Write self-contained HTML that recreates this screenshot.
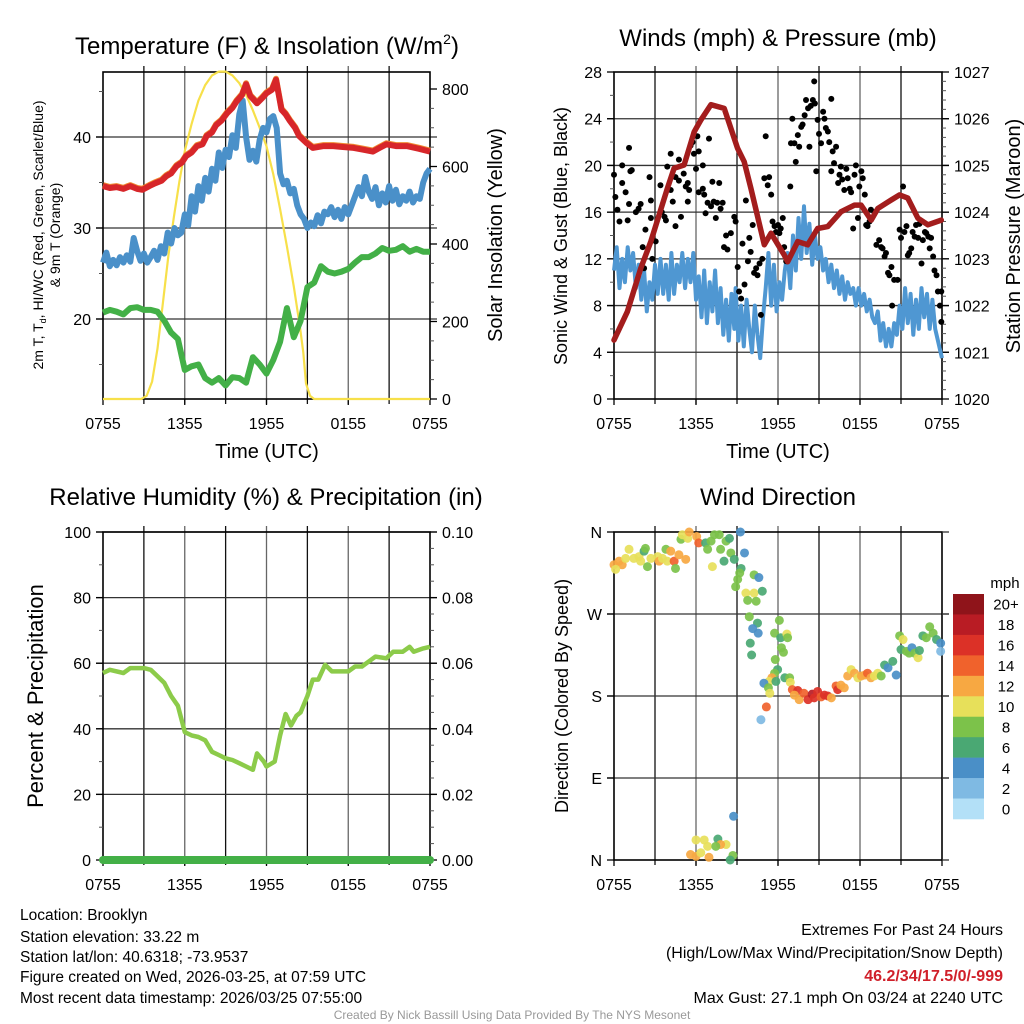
<!DOCTYPE html>
<html><head><meta charset="utf-8"><style>
html,body{margin:0;padding:0;background:#fff;}
svg{display:block;font-family:"Liberation Sans",Arial,sans-serif;}
</style></head><body>
<svg id="chart" width="1024" height="1024" viewBox="0 0 1024 1024" xmlns="http://www.w3.org/2000/svg">
<rect width="1024" height="1024" fill="#fff"/>
<g id="p1"></g>
<g id="p2"></g>
<g id="p3"></g>
<g id="p4"></g>

<text x="267" y="54" font-size="24" text-anchor="middle">Temperature (F) &amp; Insolation (W/m<tspan font-size="14" dy="-10">2</tspan><tspan dy="10">)</tspan></text>
<text x="778" y="46" font-size="24" text-anchor="middle">Winds (mph) &amp; Pressure (mb)</text>
<text x="266" y="505" font-size="24" text-anchor="middle">Relative Humidity (%) &amp; Precipitation (in)</text>
<text x="778" y="505" font-size="24" text-anchor="middle">Wind Direction</text>

<text x="267" y="458" font-size="20" text-anchor="middle">Time (UTC)</text>
<text x="778" y="458" font-size="20" text-anchor="middle">Time (UTC)</text>

<text transform="translate(43,235) rotate(-90)" font-size="14" text-anchor="middle">2m T, T<tspan font-size="9" dy="3">d</tspan><tspan dy="-3">, HI/WC (Red, Green, Scarlet/Blue)</tspan></text>
<text transform="translate(60,235) rotate(-90)" font-size="14" text-anchor="middle">&amp; 9m T (Orange)</text>
<text transform="translate(502,235) rotate(-90)" font-size="20" text-anchor="middle">Solar Insolation (Yellow)</text>
<text transform="translate(567,236) rotate(-90)" font-size="18" text-anchor="middle">Sonic Wind &amp; Gust (Blue, Black)</text>
<text transform="translate(1020,236) rotate(-90)" font-size="20" text-anchor="middle">Station Pressure (Maroon)</text>
<text transform="translate(43,696) rotate(-90)" font-size="22" text-anchor="middle">Percent &amp; Precipitation</text>
<text transform="translate(568,696) rotate(-90)" font-size="18" text-anchor="middle">Direction (Colored By Speed)</text>

<g font-size="15.5">
<text x="20" y="920">Location: Brooklyn</text>
<text x="20" y="942">Station elevation: 33.22 m</text>
<text x="20" y="962">Station lat/lon: 40.6318; -73.9537</text>
<text x="20" y="982">Figure created on Wed, 2026-03-25, at 07:59 UTC</text>
<text x="20" y="1003">Most recent data timestamp: 2026/03/25 07:55:00</text>
</g>
<g font-size="16" text-anchor="end">
<text x="1003" y="935">Extremes For Past 24 Hours</text>
<text x="1003" y="958">(High/Low/Max Wind/Precipitation/Snow Depth)</text>
<text x="1003" y="981" fill="#d0202a" font-weight="bold">46.2/34/17.5/0/-999</text>
<text x="1003" y="1003">Max Gust: 27.1 mph On 03/24 at 2240 UTC</text>
</g>
<text x="512" y="1019" font-size="12" fill="#999" text-anchor="middle">Created By Nick Bassill Using Data Provided By The NYS Mesonet</text>
</svg>
<script>
// ---------- DATA ----------
const timeTickHours = [0,6,12,18,24];
const timeTickLabels = ["0755","1355","1955","0155","0755"];

const tempHours = [0,0.5,1,1.5,2,2.5,2.9,3.4,3.8,4.3,4.65,5.0,5.4,5.8,6.1,6.5,6.9,7.3,7.6,8.0,8.3,8.7,9.1,9.5,9.8,10.2,10.5,10.8,11.3,11.7,12.0,12.4,12.7,13.1,13.4,13.7,14.1,14.4,14.9,15.4,16.2,16.9,17.6,18.4,19.1,19.8,20.3,20.8,21.5,22.3,23.2,24];
const tempValues = [34.6,34.4,34.5,34.3,34.6,34.3,34.2,34.6,34.9,35.2,35.7,36.0,36.8,37.2,37.9,38.3,39.0,39.2,40.1,40.5,41.3,41.8,42.6,43.2,43.9,44.6,45.8,44.5,43.7,44.3,44.8,45.2,46.3,43.0,42.5,41.8,41.0,40.1,39.4,38.8,39.0,39.0,38.9,38.8,38.6,38.4,38.8,39.2,39.0,39.0,38.7,38.4];

const hiwcHours = [0,0.25,0.5,0.75,1,1.25,1.5,1.75,2,2.25,2.5,2.75,3,3.25,3.5,3.75,4,4.25,4.5,4.75,5,5.25,5.5,5.75,6,6.25,6.5,6.75,7,7.25,7.5,7.75,8,8.25,8.5,8.75,9,9.25,9.5,9.75,10,10.25,10.5,10.75,11,11.25,11.5,11.75,12,12.25,12.5,12.75,13,13.25,13.5,13.75,14,14.25,14.5,14.75,15,15.25,15.5,15.75,16,16.25,16.5,16.75,17,17.25,17.5,17.75,18,18.25,18.5,18.75,19,19.25,19.5,19.75,20,20.25,20.5,20.75,21,21.25,21.5,21.75,22,22.25,22.5,22.75,23,23.25,23.5,23.75,24];
const hiwcValues = [26.2,27.3,25.8,26.5,25.9,26.8,26.2,27.0,26.3,28.9,27.5,26.4,27.2,26.2,26.8,27.5,26.5,28.0,27.2,29.5,28.3,30.0,29.2,29.5,31.5,30.3,33.5,31.8,34.6,33.0,35.5,34.0,36.5,35.2,38.3,36.6,38.6,37.8,40.2,38.8,42.5,44.0,40.0,37.5,38.5,37.3,39.7,41.0,40.5,42.0,42.3,41.0,36.0,34.8,35.2,33.8,34.3,32.5,31.5,31.0,30.0,30.6,30.2,31.4,30.5,31.8,31.5,32.3,31.2,32.0,31.0,32.3,31.5,32.5,33.5,34.5,33.5,35.6,34.0,33.2,34.5,32.5,33.8,32.8,34.6,33.0,34.2,32.6,33.5,33.0,34.0,32.8,33.5,33.2,35.0,36.0,36.5];

const dewHours = [0,0.5,1,1.5,2,2.5,3,3.5,4,4.5,5,5.5,6,6.5,7,7.5,8,8.5,9,9.5,10,10.5,11,11.5,12,12.5,13,13.5,14,14.5,15,15.5,16,16.5,17,17.5,18,18.5,19,19.5,20,20.5,21,21.5,22,22.5,23,23.5,24];
const dewValues = [20.7,21.0,20.8,20.5,21.2,21.3,21.0,21.0,20.8,19.8,18.5,17.8,14.4,14.8,15.0,13.5,13.0,13.5,12.7,13.6,13.5,13.0,15.8,15.0,14.0,15.5,17.5,21.2,18.0,19.8,23.5,24.0,25.8,25.2,25.0,25.2,25.5,26.2,26.8,26.8,27.2,27.8,27.5,27.6,28.0,27.4,27.7,27.4,27.4];

const solarHours = [0,2.8,3.2,3.6,4.0,4.4,4.8,5.2,5.6,6.0,6.5,7.0,7.5,8.0,8.5,9.0,9.5,10.0,10.5,11.0,11.5,12.0,12.5,13.0,13.5,14.0,14.45,14.7,14.9,15.2,15.5,24];
const solarValues = [0,0,8,45,130,250,370,470,560,640,710,770,810,835,845,845,835,815,785,745,700,652,580,490,394,290,187,120,40,8,0,0];

const pressHours = [0,0.98,1.96,2.69,3.91,4.4,5.13,5.87,6.35,7.09,8.06,9.04,9.53,10.02,11.0,11.49,12.46,12.71,13.44,14.17,14.9,15.64,16.62,17.6,18.08,18.82,19.31,20.28,20.9,21.5,22.24,22.97,23.95];
const pressValues = [1021.26,1021.87,1022.8,1023.37,1024.51,1024.94,1025.01,1025.72,1025.97,1026.3,1026.22,1025.37,1025.08,1024.51,1023.3,1023.55,1023.08,1022.94,1023.37,1023.3,1023.65,1023.69,1024.01,1024.15,1024.15,1023.83,1024.08,1024.26,1024.37,1024.3,1023.87,1023.73,1023.83];

const windHours = [0,0.2,0.4,0.6,0.8,1.0,1.2,1.4,1.6,1.8,2.0,2.2,2.4,2.6,2.8,3.0,3.2,3.4,3.6,3.8,4.0,4.2,4.4,4.6,4.8,5.0,5.2,5.4,5.6,5.8,6.0,6.2,6.4,6.6,6.8,7.0,7.2,7.4,7.6,7.8,8.0,8.2,8.4,8.6,8.8,8.9,9.1,9.3,9.5,9.7,9.9,10.1,10.3,10.5,10.7,10.9,11.1,11.3,11.5,11.7,11.9,12.1,12.3,12.5,12.7,12.9,13.1,13.3,13.5,13.7,13.9,14.1,14.3,14.5,14.7,14.9,15.1,15.3,15.5,15.7,15.9,16.1,16.3,16.5,16.7,16.9,17.1,17.3,17.5,17.7,17.9,18.1,18.3,18.5,18.7,18.9,19.1,19.3,19.5,19.7,19.9,20.1,20.3,20.5,20.7,20.9,21.1,21.3,21.5,21.7,21.9,22.1,22.3,22.5,22.7,22.9,23.1,23.3,23.5,23.7,23.9,24];
const windValues = [11,13,9.5,12,10,13,11,12.5,9.5,11.5,8.5,11,7.5,10,8.5,11.5,9,12,9,11.5,8.5,12.5,9,11.5,10,12.5,9.5,12,10,12.5,8.5,10.5,7,11,6.5,10,7.5,11,6.5,9.5,5.5,8.5,5,9,6,9.5,5,8,4.5,8.5,6,4,8,5.5,3.5,7,9.5,12.5,8,11.5,7.5,10,8.5,11,12.5,9.5,14,11,15.5,12,16.5,12.5,15,11.5,14,12,13,11,12,10,11.5,9.5,11,9,10.5,8.5,10,9,9.5,8,9.5,8,9,7.5,8.5,7,6.5,7.5,5,6.5,4.5,6,4.5,6.5,5.5,8,6,9.5,6.5,9,5.5,8.5,6,9.5,7,9,6,8.5,6,5,4,3.5];

const gustHours = [0,0.1,0.25,0.4,0.6,0.6,0.85,1.1,1.1,1.2,1.3,1.0,1.6,1.8,1.95,2.1,2.3,2.2,2.6,2.7,2.7,2.8,3.05,3.4,3.5,3.7,3.8,3.9,4.15,4.15,4.3,4.5,4.5,4.75,4.75,4.9,5.1,5.25,5.4,5.4,5.5,5.6,5.75,5.85,6.1,6.0,6.2,6.2,6.5,6.5,6.6,6.7,6.85,6.95,7.1,7.2,7.3,7.45,7.55,7.7,7.8,7.95,8.05,8.2,8.3,8.55,8.8,8.9,9.05,9.15,9.3,9.4,9.55,9.65,9.8,9.9,10.0,10.15,10.25,10.4,10.5,10.65,10.75,10.85,11.0,11.1,11.25,11.35,11.5,11.6,11.75,11.85,12.0,12.1,12.2,12.35,12.45,12.6,12.9,12.95,13.05,13.2,13.3,13.45,13.55,13.7,13.8,13.95,14.05,14.2,14.3,14.4,14.55,14.65,14.7,14.8,14.9,15.0,15.15,15.3,15.4,15.5,15.65,15.75,15.9,15.9,16.0,16.1,16.25,16.4,16.5,16.6,16.7,16.85,17.0,17.1,17.25,17.35,17.5,17.6,17.7,17.85,17.95,18.1,18.2,18.35,18.45,18.55,18.7,18.8,19.05,19.2,19.4,19.55,19.65,19.8,19.9,20.05,20.15,20.3,20.35,20.5,20.75,20.9,21.0,21.15,21.25,21.4,21.5,21.6,21.75,21.85,22.0,22.1,22.25,22.35,22.5,22.6,22.75,22.85,23.0,23.1,23.2,23.35,23.45,23.6,23.7,23.85,23.95,23.95];
const gustValues = [19.2,17.3,16.2,15.2,20,18.5,17.7,21.5,16.7,19.5,19.6,15.3,16,16.3,16.7,13,14.5,11.2,19,15.5,17,12,13.5,18.3,16,15.6,15.3,19.9,21,17.9,16.9,14.8,19,18.7,20.5,15.6,19.3,18.2,18.5,16.9,17.9,21.7,22,21,22.5,19.7,21.2,17.7,18,20,17.5,15.9,16.8,22.3,16.5,18.6,16.9,15.5,16.8,18.5,16.3,16.8,13,14,12.8,14.2,15.6,15.2,11.3,9.2,8.6,13.3,9.8,17,11.8,13.8,12.6,14.9,10.8,11.2,10.6,11.6,7.2,12,18.9,22.5,18.3,19,17.5,15.2,14.8,14.3,14.9,14.2,14.6,15.5,13,11.8,18.2,21.9,24,21.9,20.3,22.6,21.6,23.3,23.5,24.3,25.6,24.9,21.6,25.1,25.6,27.2,25.3,19.5,23.9,22.7,21.9,24.6,24,23.2,22.9,22,25.7,19.5,21.2,20.2,21.6,18.5,19.2,19.9,18.8,17.9,19.7,18.9,18,17.7,14.6,19.2,20,15.5,18.2,19.5,18.9,17.5,14.9,14.8,15.2,16.2,16,13.2,13.6,13,12.9,12.2,12.5,10.8,10.6,11.3,8,10.2,10.2,14.5,13.8,18.2,14.3,14.8,12.3,12.5,12.9,14.3,13.9,14.9,13.8,15,11.6,13.6,14.3,14.2,13.9,12.9,13.8,12.2,11,10.6,9.2,8,6.6,9.2];

const rhHours = [0,0.5,1.5,2,3,3.5,4,4.5,5,5.5,6,6.5,7,7.5,8,8.5,9,9.5,10,10.5,11,11.3,11.8,12,12.6,13,13.4,13.8,14.2,14.5,15,15.4,15.8,16.3,16.8,17.5,18,18.5,19,19.5,20,20.8,21.3,22,22.5,22.8,23.5,24];
const rhValues = [57,58,57,58.5,58.5,58,56,54,50,47,39,38,37.5,36.5,33,32,31,30.5,29.5,28.5,27.5,32.5,30,28.5,30,38,44.5,41,44,45,50,55,55,59.5,57.5,57.5,57.5,59,59,60.5,62,61.5,63.5,63.5,65,63.5,64.5,65];
const precipHours = [0,24];
const precipValues = [0,0];

const dirHours = [0,0.37,0.6,0.12,0.85,1.1,1.45,1.83,1.95,2.2,2.3,2.45,2.7,3.2,3.3,3.55,3.8,3.9,4.15,4.4,4.5,4.75,5.25,4.9,5.0,5.4,5.5,6.05,6.2,6.7,6.85,7.1,7.35,7.7,7.8,8.05,8.2,8.45,7.2,8.55,8.8,9.25,9.55,9.3,9.2,9.05,8.9,10.25,10.6,9.65,10.25,10.85,9.78,10.4,9.9,10.5,10.15,10.55,9.97,10.07,11.75,12.1,12.2,12.65,12.7,12.25,12.4,11.8,11.97,11.75,11.55,11.35,10.97,11.3,11.4,11.85,12.5,12.85,12.9,11.15,10.75,13.05,13.45,13.2,13.55,13.9,14.2,14.5,14.65,14.9,15.15,15.4,15.65,15.9,16.25,16.37,16.6,16.85,17.1,17.35,17.6,17.85,18.1,18.35,18.55,18.8,19.05,19.3,19.55,19.8,20.05,20.4,20.65,20.9,21.0,21.15,21.4,21.6,21.8,22.0,22.25,22.35,22.6,22.85,23.1,23.35,23.6,23.9,23.9,6,6.6,7.6,8.2,6.85,5.6,6,6.95,7.8,7.45,8.7,8.5,8.75,6.35];
const dirDegrees = [324,328,324,319,331,341,331,333,328,339,342,322,331,333,328,331,341,328,339,328,320,335,330,352,357,353,360,355,348,348,341,350,357,357,341,328,350,353,322,337,330,360,337,320,315,308,300,313,310,293,293,295,285,284,267,260,254,249,238,225,249,263,244,248,244,233,228,220,209,205,200,196,194,189,183,196,200,200,195,168,154,187,186,181,176,183,176,182,178,185,179,181,180,178,191,187,192,189,202,209,205,200,202,203,205,200,202,205,202,214,211,218,203,246,231,242,229,227,233,227,222,230,246,244,256,249,242,238,229,22,22,23,17,15,6,4,3,17,15,5,0,48,8];
const dirSpeeds = [12,13,12,10,11,10,10,10,10,6,8,8,10,10,12,10,8,10,12,15,8,12,12,8,10,10,12,12,15,6,8,8,8,8,8,6,8,6,10,8,6,4,4,6,8,8,8,8,4,10,10,6,8,8,8,6,4,4,6,6,8,8,6,10,8,8,8,8,6,8,12,10,4,8,10,6,6,8,10,14,2,14,16,12,12,14,16,18,16,16,14,16,16,12,14,16,12,12,12,10,12,10,12,12,14,12,10,10,8,6,4,6,4,8,6,10,8,8,4,8,10,6,6,8,8,8,6,4,2,10,10,6,10,10,12,12,12,12,8,8,6,4,10];

const speedBinLabels = ["20+","18","16","14","12","10","8","6","4","2","0"];
const speedBinColors = ["#8f141a","#b91c24","#dc3127","#f0622c","#f7a842","#e7e05a","#7cc24a","#4aa873","#4a8fc7","#7fbae3","#b3e0f7"];

// ---------- HELPERS ----------
const NS = "http://www.w3.org/2000/svg";
function mk(parent, tag, attrs){ const e=document.createElementNS(NS,tag); for(const k in attrs) e.setAttribute(k,attrs[k]); parent.appendChild(e); return e; }
function lin(d0,d1,r0,r1){ return v => r0 + (v-d0)*(r1-r0)/(d1-d0); }
function pathFrom(xs, ys, sx, sy){ return xs.map((h,i)=>(i?"L":"M")+sx(h).toFixed(1)+","+sy(ys[i]).toFixed(1)).join(""); }

function frame(g, X0,X1,Y0,Y1, hgrid, sy){
  const sx = lin(0,24,X0,X1);
  for(let h=3;h<24;h+=3){
    const l = mk(g,"line",{x1:sx(h),x2:sx(h),y1:Y0-6,y2:Y1+5,stroke:(h%6===0)?"#666":"#111","stroke-width":1.3});
    
    
  }
  hgrid.forEach(v=>{
    const l = mk(g,"line",{x1:X0-7,x2:X1+7,y1:sy(v),y2:sy(v),stroke:"#333","stroke-width":1.3});
    
    
  });
  const b = mk(g,"rect",{x:X0,y:Y0,width:X1-X0,height:Y1-Y0,fill:"none",stroke:"#000","stroke-width":1.6});
  
  
  timeTickHours.forEach((h,i)=>{
    mk(g,"line",{x1:sx(h),x2:sx(h),y1:Y1,y2:Y1+6,stroke:"#000","stroke-width":1.3});
    const t = mk(g,"text",{x:sx(h),y:Y1+30,"font-size":16,"text-anchor":"middle"});
    t.textContent = timeTickLabels[i];
    
    
  });
  return sx;
}
function yTicks(g, X, side, vals, labels, sy, minor){
  const dir = side==="left"?-1:1;
  minor.forEach(v=>mk(g,"line",{x1:X,x2:X+dir*4,y1:sy(v),y2:sy(v),stroke:"#555","stroke-width":1}));
  vals.forEach((v,i)=>{
    mk(g,"line",{x1:X,x2:X+dir*7,y1:sy(v),y2:sy(v),stroke:"#000","stroke-width":1.3});
    const t = mk(g,"text",{x:X+dir*12,y:sy(v)+6,"font-size":16,"text-anchor":side==="left"?"end":"start"});
    t.textContent = labels[i];
    
    
  });
}
function range(a,b,s){ const r=[]; for(let v=a; v<=b+1e-9; v+=s) r.push(+v.toFixed(4)); return r; }

// ---------- PANEL 1 ----------
(function(){
  const g=document.getElementById("p1");
  const X0=103,X1=430,Y0=72,Y1=399;
  const sy = lin(40,20,137,319);
  const sr = lin(0,800,399,89);
  const sx = frame(g,X0,X1,Y0,Y1,[20,30,40],sy);
  yTicks(g,X0,"left",[20,30,40],["20","30","40"],sy,[15,25,35,45]);
  yTicks(g,X1,"right",[0,200,400,600,800],["0","200","400","600","800"],sr,range(50,800,50));
  const solar = mk(g,"path",{d:pathFrom(solarHours,solarValues,sx,sr),fill:"none",stroke:"#f7e04a","stroke-width":2.2});
  
  
  const hi = mk(g,"path",{d:pathFrom(hiwcHours,hiwcValues,sx,sy),fill:"none",stroke:"#4a90c9","stroke-width":6,"stroke-linejoin":"round"});
  
  
  const dw = mk(g,"path",{d:pathFrom(dewHours,dewValues,sx,sy),fill:"none",stroke:"#43b047","stroke-width":6,"stroke-linejoin":"round"});
  
  
  const or = mk(g,"path",{d:pathFrom(tempHours,tempValues,sx,v=>sy(v)-1),fill:"none",stroke:"#f08a30","stroke-width":6,"stroke-linejoin":"round"});
  
  
  const rd = mk(g,"path",{d:pathFrom(tempHours,tempValues,sx,sy),fill:"none",stroke:"#d7262a","stroke-width":6,"stroke-linejoin":"round"});
  
  
})();

// ---------- PANEL 2 ----------
(function(){
  const g=document.getElementById("p2");
  const X0=614,X1=942,Y0=72,Y1=399;
  const sy = lin(0,28,399,72);
  const sp = lin(1020,1027,399,72);
  const sx = frame(g,X0,X1,Y0,Y1,[4,8,12,16,20,24],sy);
  yTicks(g,X0,"left",[0,4,8,12,16,20,24,28],["0","4","8","12","16","20","24","28"],sy,range(2,26,4));
  yTicks(g,X1,"right",[1020,1021,1022,1023,1024,1025,1026,1027],["1020","1021","1022","1023","1024","1025","1026","1027"],sp,range(1020.2,1027,0.2));
  const w = mk(g,"path",{d:pathFrom(windHours,windValues,sx,sy),fill:"none",stroke:"#4f97d2","stroke-width":4,"stroke-linejoin":"round"});
  
  
  gustHours.forEach((h,i)=>{
    const c = mk(g,"circle",{cx:sx(h),cy:sy(gustValues[i]),r:3,fill:"#000"});
    
    
  });
  const p = mk(g,"path",{d:pathFrom(pressHours,pressValues,sx,sp),fill:"none",stroke:"#a31d1d","stroke-width":5.5,"stroke-linejoin":"round","stroke-linecap":"round"});
  
  
})();

// ---------- PANEL 3 ----------
(function(){
  const g=document.getElementById("p3");
  const X0=103,X1=430,Y0=532,Y1=860;
  const sy = lin(0,100,860,532);
  const sp = lin(0,0.1,860,532);
  const sx = frame(g,X0,X1,Y0,Y1,[20,40,60,80,100],sy);
  yTicks(g,X0,"left",[0,20,40,60,80,100],["0","20","40","60","80","100"],sy,range(10,90,20));
  yTicks(g,X1,"right",[0,0.02,0.04,0.06,0.08,0.1],["0.00","0.02","0.04","0.06","0.08","0.10"],sp,range(0.005,0.1,0.005));
  const rh = mk(g,"path",{d:pathFrom(rhHours,rhValues,sx,sy),fill:"none",stroke:"#8ccb4a","stroke-width":4.5,"stroke-linejoin":"round"});
  
  
  const pr = mk(g,"path",{d:pathFrom(precipHours,precipValues,sx,sp),fill:"none",stroke:"#43b047","stroke-width":8,"stroke-linecap":"round"});
  
  
})();

// ---------- PANEL 4 ----------
(function(){
  const g=document.getElementById("p4");
  const X0=614,X1=942,Y0=532,Y1=860;
  const sy = lin(0,360,860,532);
  const sx = frame(g,X0,X1,Y0,Y1,[90,180,270],sy);
  [90,180,270,360,0].forEach(v=>mk(g,"line",{x1:X1,x2:X1+7,y1:sy(v),y2:sy(v),stroke:"#333","stroke-width":1.3}));
  yTicks(g,X0,"left",[0,90,180,270,360],["N","E","S","W","N"],sy,[]);
  function colorFor(s){ const idx = Math.min(10, Math.floor(s/2)); return speedBinColors[10-idx]; }
  dirHours.forEach((h,i)=>{
    const c = mk(g,"circle",{cx:sx(h),cy:sy(dirDegrees[i]),r:4.5,fill:colorFor(dirSpeeds[i]),"fill-opacity":0.92});
    
    
  });
  const cb = mk(g,"g",{});
  
  
  const t0 = mk(cb,"text",{x:1005,y:588,"font-size":15,"text-anchor":"middle"});
  t0.textContent="mph";
  
  
  const bh = (819-594)/speedBinLabels.length;
  speedBinLabels.forEach((lab,i)=>{
    const r = mk(cb,"rect",{x:953,y:594+i*bh,width:31,height:bh+0.3,fill:speedBinColors[i]});
    
    
    const t = mk(cb,"text",{x:1006,y:594+i*bh+bh/2+5.5,"font-size":15,"text-anchor":"middle"});
    t.textContent = lab;
    
    
  });
})();
</script>
</body></html>
